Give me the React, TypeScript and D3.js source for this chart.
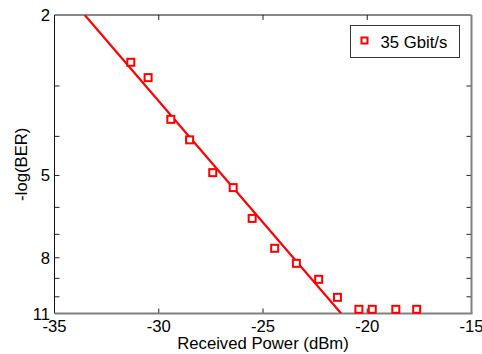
import * as d3 from "d3";

// Measured BER points (received power in dBm, -log10(BER))
const POWER = [-31.34, -30.51, -29.42, -28.52, -27.41, -26.43, -25.52, -24.44, -23.4, -22.33, -21.43, -20.4, -19.76, -18.63, -17.63];
const NEG_LOG_BER = [2.62, 2.86, 3.63, 4.08, 4.92, 5.36, 6.39, 7.58, 8.26, 9.05, 10.03, 10.74, 10.74, 10.74, 10.74];

// Linear fit endpoints (drawn in the log(-log BER) space)
const FIT_POWER = [-33.55, -21.25];
const FIT_BER = [2, 11];

const X_TICKS = [-35, -30, -25, -20, -15];
const Y_TICKS = [2, 3, 4, 5, 6, 7, 8, 9, 10, 11];
const Y_LABELED = [2, 5, 8, 11];

const SERIES_NAME = "35 Gbit/s";

const W = 482;
const H = 354;
const LEFT = 54.5;
const RIGHT = 471.5;
const TOP = 15;
const BOTTOM = 313.5;
const RED = "#ff0000";
const FONT = "'Liberation Sans', Arial, sans-serif";
const FS = 16.7;

export default function App() {
  const x = d3.scaleLinear().domain([-35, -15]).range([LEFT, RIGHT]);
  const y = d3.scaleLog().domain([2, 11]).range([TOP, BOTTOM]);

  const fit = d3
    .line<number>()
    .x((_, i) => x(FIT_POWER[i]))
    .y((_, i) => y(FIT_BER[i]));

  const pts = POWER.map((p, i) => ({ p, b: NEG_LOG_BER[i] }));

  return (
    <svg
      width={W}
      height={H}
      style={{ position: "absolute", left: 0, top: 0, background: "white" }}
    >
      <defs>
        <clipPath id="plot">
          <rect x={LEFT} y={TOP} width={RIGHT - LEFT} height={BOTTOM - TOP} />
        </clipPath>
      </defs>

      {/* ticks inward on all sides */}
      {X_TICKS.slice(1, -1).map((t) => (
        <g key={`xt${t}`} stroke="#222" strokeWidth={1}>
          <line x1={x(t)} x2={x(t)} y1={BOTTOM} y2={BOTTOM - 5} />
          <line x1={x(t)} x2={x(t)} y1={TOP} y2={TOP + 5} />
        </g>
      ))}
      {Y_TICKS.slice(1, -1).map((t) => (
        <g key={`yt${t}`} stroke="#222" strokeWidth={1}>
          <line x1={LEFT} x2={LEFT + 5} y1={y(t)} y2={y(t)} />
          <line x1={RIGHT} x2={RIGHT - 5} y1={y(t)} y2={y(t)} />
        </g>
      ))}

      {/* frame: dark top/left, gray bottom/right */}
      <line x1={LEFT} x2={RIGHT} y1={TOP} y2={TOP} stroke="#111" strokeWidth={1} />
      <line x1={LEFT} x2={LEFT} y1={TOP} y2={BOTTOM} stroke="#111" strokeWidth={1} />
      <line x1={LEFT} x2={RIGHT + 1} y1={BOTTOM} y2={BOTTOM} stroke="#808080" strokeWidth={2} />
      <line x1={RIGHT} x2={RIGHT} y1={TOP} y2={BOTTOM} stroke="#808080" strokeWidth={2} />

      {/* tick labels */}
      {X_TICKS.map((t) => (
        <text
          key={`xl${t}`}
          x={x(t)}
          y={332}
          textAnchor="middle"
          fontSize={FS}
          fontFamily={FONT}
          fill="#000"
        >
          {t}
        </text>
      ))}
      {Y_LABELED.map((t) => (
        <text
          key={`yl${t}`}
          x={50}
          y={y(t)}
          dy="0.36em"
          textAnchor="end"
          fontSize={FS}
          fontFamily={FONT}
          fill="#000"
        >
          {t}
        </text>
      ))}

      {/* axis titles */}
      <text
        x={(LEFT + RIGHT) / 2}
        y={348.5}
        textAnchor="middle"
        fontSize={FS}
        fontFamily={FONT}
        fill="#000"
      >
        Received Power (dBm)
      </text>
      <text
        transform={`translate(27,${(TOP + BOTTOM) / 2}) rotate(-90)`}
        textAnchor="middle"
        fontSize={FS}
        fontFamily={FONT}
        fill="#000"
      >
        -log(BER)
      </text>

      {/* fit line and markers */}
      <g clipPath="url(#plot)">
        <path d={fit(FIT_POWER) ?? ""} fill="none" stroke={RED} strokeWidth={2.2} />
      </g>
      {pts.map((d, i) => (
        <rect
          key={i}
          x={x(d.p) - 3.5}
          y={y(d.b) - 3.5}
          width={7}
          height={7}
          fill="white"
          stroke={RED}
          strokeWidth={2}
        />
      ))}

      {/* legend */}
      <rect x={350.5} y={25.5} width={109} height={32} fill="white" stroke="#333" strokeWidth={1} />
      <rect x={361.5} y={37.5} width={6} height={6} fill="white" stroke={RED} strokeWidth={2} />
      <text x={380.5} y={47.5} fontSize={FS} fontFamily={FONT} fill="#000">
        {SERIES_NAME}
      </text>
    </svg>
  );
}
